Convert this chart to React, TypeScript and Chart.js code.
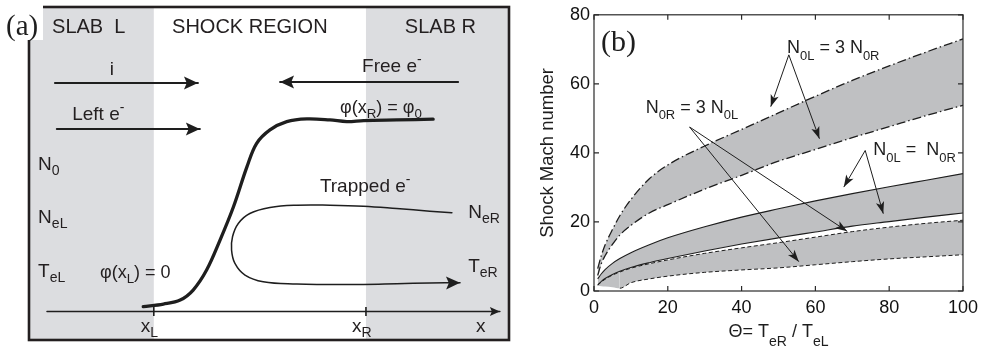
import React, { useEffect, useRef } from 'react';
import { Chart, registerables } from 'chart.js';

Chart.register(...registerables);

const SANS = "'Liberation Sans', Arial, Helvetica, sans-serif";
const SERIF = "'Liberation Serif', 'Times New Roman', serif";
const INK = '#1e1e1e';
const SLAB_GRAY = '#dcdde0';
const BAND_GRAY = '#bfc0c2';

// ---------------- Panel (b) data ----------------
const THETA = [1, 2, 3, 5, 7, 10, 15, 20, 30, 40, 50, 60, 70, 80, 90, 100];
// N0L = 3 N0R (dash-dot band)
const N0L3_UPPER = [6.5, 10.3, 13.3, 17.8, 21.8, 26.5, 32.5, 36.5, 42, 46.8, 51.6, 56.4, 61, 65.2, 69.2, 73];
const N0L3_LOWER = [4.5, 8, 10.2, 13.5, 16.2, 19, 22.6, 25, 29.5, 33.5, 37.6, 41, 44.4, 47.6, 50.8, 53.8];
// N0L = N0R (solid band)
const EQ_UPPER = [3.5, 5, 6.2, 8, 9.4, 11.1, 13.4, 15.4, 18.6, 21.4, 23.8, 26.1, 28.2, 30.2, 32.1, 34];
const EQ_LOWER = [1.8, 2.8, 3.6, 4.8, 5.7, 6.8, 8.2, 9.4, 11.6, 13.6, 15.4, 17.1, 18.8, 20.1, 21.4, 22.6];
// N0R = 3 N0L (dashed band)
const N0R3_UPPER = [1.7, 2.6, 3.4, 4.6, 5.5, 6.6, 7.9, 9.0, 10.9, 12.5, 14.0, 15.6, 17.2, 18.5, 19.6, 20.5];
const N0R3_LOWER = [1.5, 1.4, 1.3, 1.1, 0.8, 2.4, 3.5, 4.3, 5.4, 6.1, 6.7, 7.6, 8.5, 9.3, 9.9, 10.5];
const N0R3_LOWER_LINE_FROM = 4; // dashed line drawn from THETA index 4 onward

const X_TICK_STEP = 20;
const Y_TICK_STEP = 20;

type Part = { t: string; s?: 'sub' | 'sup' };

const B_LABELS: { parts: Part[]; x: number; y: number }[] = [
  { parts: [{ t: 'N' }, { t: '0L', s: 'sub' }, { t: ' = 3 N' }, { t: '0R', s: 'sub' }], x: 52.3, y: 69.0 },
  { parts: [{ t: 'N' }, { t: '0R', s: 'sub' }, { t: ' = 3 N' }, { t: '0L', s: 'sub' }], x: 14.0, y: 51.7 },
  { parts: [{ t: 'N' }, { t: '0L', s: 'sub' }, { t: ' =  N' }, { t: '0R', s: 'sub' }], x: 75.7, y: 39.3 },
];
const B_ARROWS: { from: [number, number]; to: [number, number] }[] = [
  { from: [52.8, 68.4], to: [47.9, 53.4] },
  { from: [52.8, 68.4], to: [61.1, 44.1] },
  { from: [25.9, 47.5], to: [68.6, 17.3] },
  { from: [25.9, 47.5], to: [55.5, 8.5] },
  { from: [73.5, 40.7], to: [67.7, 30.1] },
  { from: [73.5, 40.7], to: [78.4, 22.4] },
];
const Y_TITLE = 'Shock Mach number';
const X_TITLE: Part[] = [{ t: 'Θ= T' }, { t: 'eR', s: 'sub' }, { t: ' / T' }, { t: 'eL', s: 'sub' }];

// ---------------- Panel (a) schematic (box units 0..100) ----------------
const SLAB_L_END = 26.0;
const SLAB_R_START = 70.2;
const PHI_X = [23.8, 28.0, 31.5, 34.2, 37.0, 39.8, 42.6, 45.4, 47.4, 50.2, 53.7, 57.9, 62.7, 66.2, 69.7, 76.6, 84.2];
const PHI_Y = [10.0, 10.8, 12.0, 15.0, 21.0, 30.0, 40.0, 52.0, 59.0, 63.1, 65.6, 66.4, 66.1, 65.6, 65.9, 66.1, 66.3];
const TRAP_X = [88.1, 83.5, 76.6, 69.7, 62.7, 55.8, 50.2, 46.0, 43.6, 42.4, 42.2, 42.9, 45.0, 48.8, 55.8, 62.7, 69.7, 76.6, 83.5, 89.8];
const TRAP_Y = [38.2, 38.7, 39.5, 40.2, 40.5, 40.5, 39.8, 38.0, 35.0, 31.0, 27.0, 23.0, 19.5, 17.5, 16.8, 16.7, 16.7, 16.9, 17.1, 17.2];
const FLOW_ARROWS: { x: [number, number]; y: [number, number] }[] = [
  { x: [5.4, 35.2], y: [77.2, 77.2] },
  { x: [89.4, 52.3], y: [77.5, 77.5] },
  { x: [5.8, 35.6], y: [63.4, 63.4] },
];
const AXIS_X = [3.75, 98.1];
const AXIS_Y = [8.56, 8.56];
const AXIS_TICK_Y = [7.2, 9.9];

const A_LABELS: { parts: Part[]; u: number; v: number; size: number }[] = [
  { parts: [{ t: 'SLAB  L' }], u: 4.8, v: 92.2, size: 20 },
  { parts: [{ t: 'SHOCK REGION' }], u: 29.8, v: 92.2, size: 20 },
  { parts: [{ t: 'SLAB R' }], u: 78.3, v: 92.2, size: 20 },
  { parts: [{ t: 'i' }], u: 16.8, v: 79.6, size: 19 },
  { parts: [{ t: 'Free e' }, { t: '-', s: 'sup' }], u: 69.4, v: 80.5, size: 19 },
  { parts: [{ t: 'Left e' }, { t: '-', s: 'sup' }], u: 9.0, v: 66.1, size: 19 },
  { parts: [{ t: 'φ(x' }, { t: 'R', s: 'sub' }, { t: ') = φ' }, { t: '0', s: 'sub' }], u: 64.8, v: 68.2, size: 18 },
  { parts: [{ t: 'Trapped e' }, { t: '-', s: 'sup' }], u: 60.6, v: 44.5, size: 19 },
  { parts: [{ t: 'N' }, { t: '0', s: 'sub' }], u: 1.9, v: 51.1, size: 19 },
  { parts: [{ t: 'N' }, { t: 'eL', s: 'sub' }], u: 1.9, v: 35.1, size: 19 },
  { parts: [{ t: 'T' }, { t: 'eL', s: 'sub' }], u: 1.9, v: 18.9, size: 19 },
  { parts: [{ t: 'N' }, { t: 'eR', s: 'sub' }], u: 91.5, v: 36.6, size: 19 },
  { parts: [{ t: 'T' }, { t: 'eR', s: 'sub' }], u: 91.5, v: 20.4, size: 19 },
  { parts: [{ t: 'φ(x' }, { t: 'L', s: 'sub' }, { t: ') = 0' }], u: 14.8, v: 18.6, size: 18 },
  { parts: [{ t: 'x' }, { t: 'L', s: 'sub' }], u: 23.3, v: 2.5, size: 19 },
  { parts: [{ t: 'x' }, { t: 'R', s: 'sub' }], u: 67.3, v: 2.5, size: 19 },
  { parts: [{ t: 'x' }], u: 93.1, v: 2.5, size: 19 },
];

// ---------------- helpers ----------------
function drawRich(
  ctx: CanvasRenderingContext2D,
  parts: Part[],
  x: number,
  y: number,
  size: number,
  family: string,
  opts: { align?: 'left' | 'center'; subDy?: number; subScale?: number } = {}
) {
  const subScale = opts.subScale ?? 0.72;
  const subDy = opts.subDy ?? 0.3;
  const fontOf = (p: Part) => `${p.s ? size * subScale : size}px ${family}`;
  let w = 0;
  for (const p of parts) {
    ctx.font = fontOf(p);
    w += ctx.measureText(p.t).width;
  }
  let cx = opts.align === 'center' ? x - w / 2 : x;
  ctx.textAlign = 'left';
  ctx.textBaseline = 'alphabetic';
  for (const p of parts) {
    ctx.font = fontOf(p);
    const dy = p.s === 'sub' ? size * subDy : p.s === 'sup' ? -size * 0.42 : 0;
    ctx.fillText(p.t, cx, y + dy);
    cx += ctx.measureText(p.t).width;
  }
}

function arrowHead(
  ctx: CanvasRenderingContext2D,
  x0: number,
  y0: number,
  x1: number,
  y1: number,
  len: number,
  half: number,
  notch = 0.2
) {
  const a = Math.atan2(y1 - y0, x1 - x0);
  const c = Math.cos(a);
  const s = Math.sin(a);
  const bx = x1 - len * c;
  const by = y1 - len * s;
  ctx.beginPath();
  ctx.moveTo(x1, y1);
  ctx.lineTo(bx - half * s, by + half * c);
  ctx.lineTo(x1 - len * (1 - notch) * c, y1 - len * (1 - notch) * s);
  ctx.lineTo(bx + half * s, by - half * c);
  ctx.closePath();
  ctx.fill();
}

// ---------------- panel (a) plugin ----------------
const schematicPlugin = {
  id: 'schematic',
  beforeDatasetsDraw(chart: any) {
    const { ctx, chartArea: ca, scales } = chart;
    const xs = scales.x;
    ctx.save();
    ctx.fillStyle = SLAB_GRAY;
    const xl = xs.getPixelForValue(SLAB_L_END);
    const xr = xs.getPixelForValue(SLAB_R_START);
    ctx.fillRect(ca.left, ca.top, xl - ca.left, ca.bottom - ca.top);
    ctx.fillRect(xr, ca.top, ca.right - xr, ca.bottom - ca.top);
    ctx.restore();
  },
  afterDatasetsDraw(chart: any) {
    const { ctx, chartArea: ca, scales } = chart;
    const xs = scales.x;
    const ys = scales.y;
    const px = (u: number) => xs.getPixelForValue(u);
    const py = (v: number) => ys.getPixelForValue(v);
    ctx.save();
    ctx.fillStyle = INK;
    ctx.strokeStyle = INK;
    // flow arrow heads
    for (const a of FLOW_ARROWS) {
      arrowHead(ctx, px(a.x[0]), py(a.y[0]), px(a.x[1]), py(a.y[1]), 14, 6.5);
    }
    // trapped loop arrow head
    const n = TRAP_X.length;
    arrowHead(ctx, px(TRAP_X[n - 3]), py(TRAP_Y[n - 3]), px(TRAP_X[n - 1]), py(TRAP_Y[n - 1]), 14, 6.5);
    // axis arrow head
    arrowHead(ctx, px(AXIS_X[0]), py(AXIS_Y[0]), px(AXIS_X[1]), py(AXIS_Y[1]), 10, 4.5);
    // axis ticks
    ctx.lineWidth = 1.6;
    for (const t of [SLAB_L_END, SLAB_R_START]) {
      ctx.beginPath();
      ctx.moveTo(px(t), py(AXIS_TICK_Y[0]));
      ctx.lineTo(px(t), py(AXIS_TICK_Y[1]));
      ctx.stroke();
    }
    // frame
    ctx.lineWidth = 2.6;
    ctx.strokeStyle = '#231f20';
    ctx.strokeRect(ca.left, ca.top, ca.right - ca.left, ca.bottom - ca.top);
    // white patch behind (a)
    ctx.fillStyle = '#ffffff';
    ctx.fillRect(0, 0, 43, 40);
    ctx.fillStyle = INK;
    ctx.font = `29px ${SERIF}`;
    ctx.textAlign = 'left';
    ctx.textBaseline = 'alphabetic';
    ctx.fillText('(a)', 6, 35);
    // labels
    ctx.fillStyle = '#231f20';
    for (const l of A_LABELS) {
      drawRich(ctx, l.parts, px(l.u), py(l.v), l.size, SANS, { subDy: 0.28, subScale: 0.74 });
    }
    ctx.restore();
  },
};

// ---------------- panel (b) plugin ----------------
const plotPlugin = {
  id: 'plotDecor',
  afterDraw(chart: any) {
    const { ctx, chartArea: ca, scales } = chart;
    const xs = scales.x;
    const ys = scales.y;
    const px = (v: number) => xs.getPixelForValue(v);
    const py = (v: number) => ys.getPixelForValue(v);
    ctx.save();
    // frame
    ctx.strokeStyle = '#2a2a2a';
    ctx.lineWidth = 1.2;
    ctx.strokeRect(ca.left, ca.top, ca.right - ca.left, ca.bottom - ca.top);
    // inward ticks
    const tl = 5;
    ctx.beginPath();
    for (const t of xs.ticks) {
      const x = px(t.value);
      ctx.moveTo(x, ca.bottom);
      ctx.lineTo(x, ca.bottom - tl);
      ctx.moveTo(x, ca.top);
      ctx.lineTo(x, ca.top + tl);
    }
    for (const t of ys.ticks) {
      const y = py(t.value);
      ctx.moveTo(ca.left, y);
      ctx.lineTo(ca.left + tl, y);
      ctx.moveTo(ca.right, y);
      ctx.lineTo(ca.right - tl, y);
    }
    ctx.stroke();
    // (b)
    ctx.fillStyle = INK;
    ctx.font = `30px ${SERIF}`;
    ctx.textAlign = 'left';
    ctx.textBaseline = 'alphabetic';
    ctx.fillText('(b)', ca.left + 7, ca.top + 36);
    // annotation arrows
    ctx.strokeStyle = INK;
    ctx.fillStyle = INK;
    ctx.lineWidth = 1;
    for (const a of B_ARROWS) {
      const x0 = px(a.from[0]);
      const y0 = py(a.from[1]);
      const x1 = px(a.to[0]);
      const y1 = py(a.to[1]);
      ctx.beginPath();
      ctx.moveTo(x0, y0);
      ctx.lineTo(x1, y1);
      ctx.stroke();
      arrowHead(ctx, x0, y0, x1, y1, 12, 4.2, 0.25);
    }
    // annotation labels
    for (const l of B_LABELS) {
      drawRich(ctx, l.parts, px(l.x), py(l.y), 18, SANS, { subDy: 0.38, subScale: 0.72 });
    }
    // x title
    drawRich(ctx, X_TITLE, (ca.left + ca.right) / 2, 337, 18, SANS, {
      align: 'center',
      subDy: 0.5,
      subScale: 0.78,
    });
    // y title
    ctx.save();
    ctx.translate(27.5, (ca.top + ca.bottom) / 2);
    ctx.rotate(-Math.PI / 2);
    ctx.font = `18.5px ${SANS}`;
    ctx.textAlign = 'center';
    ctx.textBaseline = 'middle';
    ctx.fillText(Y_TITLE, 0, 0);
    ctx.restore();
    ctx.restore();
  },
};

function bandLine(values: number[], style: 'dashdot' | 'solid' | 'dashed', fill: any, hideBefore = 0) {
  const dash = style === 'dashdot' ? [9, 3, 1.5, 3] : style === 'dashed' ? [4, 2.5] : [];
  return {
    data: THETA.map((x, i) => ({ x, y: values[i] })),
    borderColor: INK,
    borderWidth: style === 'dashdot' ? 1.3 : style === 'solid' ? 1.1 : 1,
    borderDash: dash,
    backgroundColor: BAND_GRAY,
    fill,
    pointRadius: 0,
    cubicInterpolationMode: 'monotone',
    segment: hideBefore
      ? { borderColor: (c: any) => (c.p0DataIndex < hideBefore ? 'rgba(0,0,0,0)' : INK) }
      : undefined,
  };
}

export default function App() {
  const refA = useRef<HTMLCanvasElement>(null);
  const refB = useRef<HTMLCanvasElement>(null);

  useEffect(() => {
    Chart.defaults.font.family = SANS;
    const lineDs = (xsArr: number[], ysArr: number[], width: number, tension: number) => ({
      data: xsArr.map((x, i) => ({ x, y: ysArr[i] })),
      showLine: true,
      borderColor: INK,
      borderWidth: width,
      pointRadius: 0,
      tension,
      borderCapStyle: 'round',
      borderJoinStyle: 'round',
      clip: false,
    });

    const chartA = new Chart(refA.current as HTMLCanvasElement, {
      type: 'scatter',
      data: {
        datasets: [
          lineDs(PHI_X, PHI_Y, 3.3, 0.35),
          lineDs(TRAP_X, TRAP_Y, 1.5, 0.4),
          ...FLOW_ARROWS.map((a) => lineDs(a.x, a.y, 2, 0)),
          lineDs(AXIS_X, AXIS_Y, 1.5, 0),
        ] as any,
      },
      options: {
        responsive: false,
        animation: false,
        devicePixelRatio: 1,
        layout: { padding: { left: 29, right: 11, top: 7, bottom: 11 } },
        plugins: { legend: { display: false }, tooltip: { enabled: false } },
        scales: {
          x: { type: 'linear', min: 0, max: 100, display: false },
          y: { type: 'linear', min: 0, max: 100, display: false },
        },
      } as any,
      plugins: [schematicPlugin],
    });

    const chartB = new Chart(refB.current as HTMLCanvasElement, {
      type: 'line',
      data: {
        datasets: [
          bandLine(N0L3_UPPER, 'dashdot', '+1'),
          bandLine(N0L3_LOWER, 'dashdot', false),
          bandLine(EQ_UPPER, 'solid', '+1'),
          bandLine(EQ_LOWER, 'solid', false),
          bandLine(N0R3_UPPER, 'dashed', '+1'),
          bandLine(N0R3_LOWER, 'dashed', false, N0R3_LOWER_LINE_FROM),
        ] as any,
      },
      options: {
        responsive: false,
        animation: false,
        devicePixelRatio: 1,
        layout: { padding: { left: 0, right: 19, top: 14, bottom: 0 } },
        plugins: {
          legend: { display: false },
          tooltip: { enabled: false },
          filler: { drawTime: 'beforeDatasetsDraw' },
        },
        scales: {
          x: {
            type: 'linear',
            min: 0,
            max: 100,
            ticks: { stepSize: X_TICK_STEP, font: { size: 18, family: SANS }, color: '#111', padding: 6, maxRotation: 0 },
            grid: { display: false, drawTicks: false },
            border: { display: false },
            afterFit: (s: any) => {
              s.height = 60;
            },
          },
          y: {
            type: 'linear',
            min: 0,
            max: 80,
            ticks: { stepSize: Y_TICK_STEP, font: { size: 18, family: SANS }, color: '#111', padding: 4 },
            grid: { display: false, drawTicks: false },
            border: { display: false },
            afterFit: (s: any) => {
              s.width = 74;
            },
          },
        },
      } as any,
      plugins: [plotPlugin],
    });

    return () => {
      chartA.destroy();
      chartB.destroy();
    };
  }, []);

  return (
    <div style={{ position: 'absolute', left: 0, top: 0, width: 984, height: 351, background: '#ffffff' }}>
      <canvas
        ref={refA}
        width={520}
        height={351}
        style={{ position: 'absolute', left: 0, top: 0, width: 520, height: 351 }}
      />
      <canvas
        ref={refB}
        width={464}
        height={351}
        style={{ position: 'absolute', left: 520, top: 0, width: 464, height: 351 }}
      />
    </div>
  );
}
